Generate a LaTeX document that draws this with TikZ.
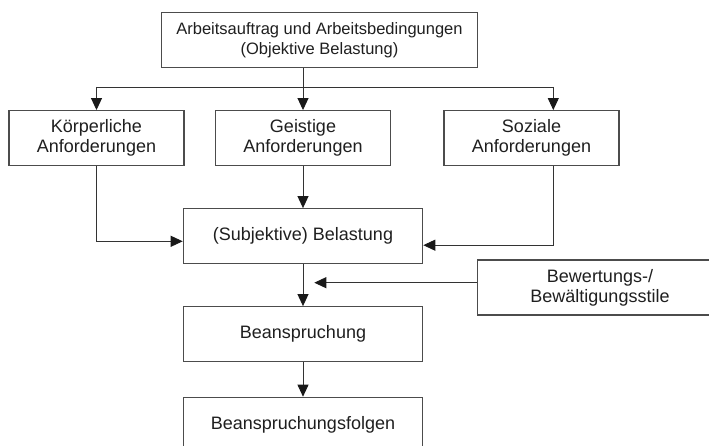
\documentclass[tikz,border=0pt]{standalone}
\usepackage{fontspec}
\setmainfont{Liberation Sans}
\usetikzlibrary{arrows.meta}
\begin{document}
\begin{tikzpicture}[x=1pt,y=-1pt,
  box/.style={draw=black!70, line width=1.2pt, fill=white, inner sep=0pt, align=center,
     text=black!88, font=\fontsize{18}{20}\selectfont},
  line/.style={draw=black!80, line width=0.9pt},
  arr/.style={line, -{Triangle[length=12pt 0 0,width=11pt 0 0,color=black!90]}}]
\useasboundingbox (0,0) rectangle (709,446);
\clip (0,0) rectangle (709,446);
% nodes
\node[box, font=\fontsize{16.5}{20}\selectfont, minimum width=315.6pt, minimum height=54.6pt]
  (top) at (319.5,40) {Arbeitsauftrag und Arbeitsbedingungen\\(Objektive Belastung)};
\node[box, minimum width=175pt, minimum height=54.5pt] (K) at (96.5,137.9) {Körperliche\\Anforderungen};
\node[box, minimum width=174.3pt, minimum height=54.5pt] (G) at (303,137.9) {Geistige\\Anforderungen};
\node[box, minimum width=175pt, minimum height=54.5pt] (S) at (531.5,137.9) {Soziale\\Anforderungen};
\node[box, minimum width=239.4pt, minimum height=54.6pt] (Sub) at (303,236) {(Subjektive) Belastung};
\node[box, minimum width=245.6pt, minimum height=55pt] (Bew) at (600,287.5) {Bewertungs-/\\Bewältigungsstile};
\node[box, minimum width=239.4pt, minimum height=55pt] (Bea) at (303,334.2) {Beanspruchung};
\node[box, minimum width=239.4pt, minimum height=55pt] (Fol) at (303,424.8) {Beanspruchungsfolgen};
% helper coordinates
\coordinate (j) at (303.5,87);
\coordinate (sx) at (553.3,87);
\coordinate (kl) at (0,241.3);
\coordinate (sr) at (0,245.2);
\coordinate (bt) at (314.3,282.7);
% connectors
\draw[line] (top.south -| j) -- (j);
\draw[line] (j -| K.north) -- (sx);
\draw[arr] (j -| K.north) -- (K.north);
\draw[arr] (j -| G.north) -- (G.north);
\draw[arr] (sx) -- (S.north -| sx);
\draw[arr] (K.south) |- (Sub.west |- kl);
\draw[arr] (G.south) -- (Sub.north);
\draw[arr] (S.south -| sx) |- (Sub.east |- sr);
\draw[arr] (Sub.south) -- (Bea.north);
\draw[arr] (Bew.west |- bt) -- (bt);
\draw[arr] (Bea.south) -- (Fol.north);
\end{tikzpicture}
\end{document}
